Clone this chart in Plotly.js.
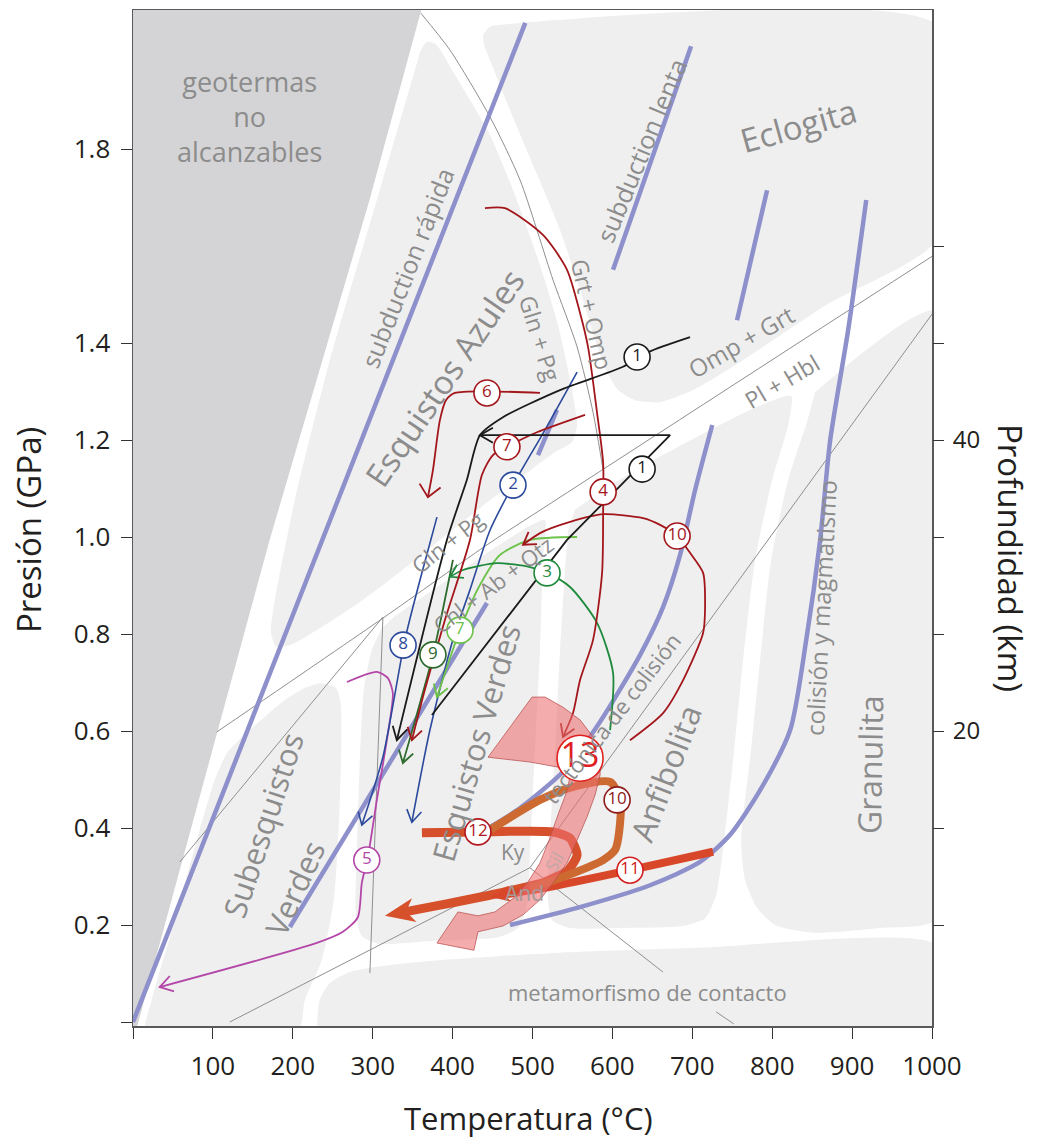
<!DOCTYPE html>
<html><head><meta charset="utf-8">
<script src="https://cdn.plot.ly/plotly-3.0.1.min.js"></script>
<style>html,body{margin:0;padding:0;background:#fff}#chart{width:1040px;height:1140px}</style>
</head><body><div id="chart"></div>
<script>
// ================= DATA (T in °C, P in GPa) =================
// Axis ticks
const xTickVals = [0,100,200,300,400,500,600,700,800,900,1000];
const xTickText = ['','100','200','300','400','500','600','700','800','900','1000'];
const yTickVals = [0,0.2,0.4,0.6,0.8,1.0,1.2,1.4,1.8];
const yTickText = ['','0.2','0.4','0.6','0.8','1.0','1.2','1.4','1.8'];
const depthTickVals = [0.2,0.4,0.6,0.8,1.0,1.2,1.4,1.6];
const depthTickText = ['','','20','','','40','',''];

// Unreachable geotherms region
const darkT = [0, 363, 296, 171, 3.4, 0];
const darkP = [2.1, 2.1, 1.695, 0.994, -0.02, -0.02];

// Metamorphic facies fields
const blueschistT = [359.1,367.8,379.1,402.9,446.8,478.1,509.4,532.0,547.0,555.8,549.5,528.2,484.4,434.3,384.2,334.1,284.0,233.9,196.3,178.8,172.5,177.5,202.5,246.4,305.2,356.6];
const blueschistP = [2.000,2.021,2.016,1.953,1.829,1.705,1.561,1.437,1.324,1.231,1.196,1.175,1.122,1.060,0.994,0.928,0.866,0.812,0.777,0.775,0.804,0.870,1.076,1.365,1.695,1.984];
const eclogiteT = [437.9,446.7,459.2,1005,1005,868.9,759.9,701.0,659.7,628.4,607.1,593.3,578.3,559.5,534.5,503.2,471.9,449.3,439.3];
const eclogiteP = [2.035,2.052,2.056,2.056,1.612,1.480,1.361,1.303,1.278,1.282,1.303,1.340,1.406,1.509,1.633,1.757,1.880,1.973,2.014];
const greenschistT = [327.8,384.1,446.8,496.9,515.7,513.1,509.4,503.1,496.9,493.1,481.8,456.8,371.6,309.0,286.4,278.9,280.2,283.9,288.9,298.9,311.5];
const greenschistP = [0.837,0.901,0.971,1.023,1.035,0.953,0.767,0.561,0.355,0.241,0.194,0.175,0.167,0.161,0.177,0.221,0.355,0.540,0.685,0.767,0.812];
const amphiboliteT = [553.2,584.6,647.2,709.8,772.4,823.7,820.0,800.0,778.7,764.9,752.4,739.9,729.9,716.1,688.6,609.6,547.0,524.5,519.4,521.9,528.2,534.5,540.7,544.5];
const amphiboliteP = [1.056,1.093,1.155,1.210,1.262,1.291,1.231,1.118,0.953,0.767,0.561,0.375,0.262,0.214,0.198,0.194,0.194,0.210,0.252,0.375,0.561,0.767,0.932,1.014];
const granuliteT = [853.8,1005,1005,935.1,851.2,803.6,781.1,766.1,761.1,773.6,786.1,798.7,820.0,842.5];
const granuliteP = [1.299,1.466,0.212,0.194,0.184,0.200,0.235,0.293,0.375,0.561,0.767,0.953,1.118,1.231];
const contactT = [229.7,233.5,246.1,271.2,308.8,371.4,521.7,709.6,1005,1005];
const contactP = [-0.02,0.045,0.080,0.103,0.115,0.126,0.142,0.153,0.159,-0.02];
const subgreenT = [233.9,253.9,260.1,258.9,251.4,236.3,215.0,206.3,15.9,23.4,52.2,83.5,102.3,118.6,146.2,190.0,215.0];
const subgreenP = [0.699,0.689,0.654,0.458,0.252,0.128,0.045,-0.02,-0.02,0.045,0.210,0.396,0.499,0.557,0.602,0.664,0.689];

// Reaction lines
const grtOmpT = [360.3,396.7,446.8,484.4,525.7,555.8,575.9,588.4];
const grtOmpP = [2.080,2.004,1.866,1.736,1.530,1.392,1.256,1.138];
const glnPgT = [104.8,313.0,446.8,534.5,1000.3];
const glnPgP = [0.598,0.833,0.988,1.082,1.579];
const line3T = [312.8,58.5];   const line3P = [0.835,0.330];
const line4T = [312.8,296.5];  const line4P = [0.835,0.101];
const kyAndT = [121.1,496.7];  const kyAndP = [0,0.318];
const kySilT = [496.7,1000.3]; const kySilP = [0.318,1.460];
const andSilT = [496.7,663.3,null,729.7,752]; const andSilP = [0.318,0.103,null,0.021,-0.004];

// Geotherms
const geoRapidT = [0,491];          const geoRapidP = [0,2.06];
const geoSlowT = [600.8,698.5];     const geoSlowP = [1.551,2.012];
const geoMidT = [756,793.6];        const geoMidP = [1.447,1.715];
const geoMagT = [917.7,895.1,872.6,860.0,842.5,822.5,784.9,747.3,709.7,647.1,559.5,471.8];
const geoMagP = [1.695,1.427,1.200,0.994,0.787,0.602,0.478,0.386,0.330,0.282,0.237,0.200];
const geoColT = [725,703.5,684.7,663.5,634.7,584.6,540.7,484.4,446.9];
const geoColP = [1.231,1.097,0.963,0.856,0.757,0.619,0.520,0.441,0.402];
const geoGsT = [196.3,443.0];       const geoGsP = [0.196,0.864];
const geoShortT = [506.9,530.7];    const geoShortP = [1.169,1.262];

// P-T paths
const path1aT = [697.2,644.7,613.3,534.4,463.0,434.2,417.9,392.9,330.2];
const path1aP = [1.412,1.381,1.351,1.303,1.247,1.210,1.118,0.994,0.581];
const path1bT = [374.1,543.2,672.2,434.2];
const path1bP = [0.633,0.994,1.210,1.210];
const path6T = [509.4,402.9,391.7,384.1,375.4,369.1];
const path6P = [1.297,1.297,1.282,1.241,1.138,1.082];
const path4T = [440.5,465.5,513.1,543.2,559.5,569.5,580.8,588.4,588.4,587.1,575.8,559.5,550.7,538.2];
const path4P = [1.678,1.678,1.623,1.551,1.462,1.392,1.256,1.153,1.049,0.926,0.788,0.705,0.637,0.588];
const path7rT = [565.8,505.6,468.0,450.5,436.7,421.7,390.4,365.3,349.0];
const path7rP = [1.252,1.216,1.186,1.169,1.128,0.994,0.829,0.685,0.581];
const path10T = [622.0,663.4,688.5,713.5,716.0,713.5,697.3,681.0,659.7,638.4,588.4,547.0,509.4,488.1];
const path10P = [0.581,0.637,0.705,0.802,0.856,0.926,0.967,1.002,1.025,1.039,1.047,1.031,1.008,0.984];
const path2T = [555.8,515.7,475.6,446.8,421.7,400.4,371.6,349.0];
const path2P = [1.340,1.221,1.107,1.014,0.891,0.788,0.602,0.412];
const path8T = [380.4,359.1,340.3,312.7,286.4];
const path8P = [1.041,0.911,0.788,0.546,0.406];
const path9T = [400.4,375.4,337.8];
const path9P = [0.953,0.757,0.534];
const path3T = [597.1,600.8,580.8,547.0,518.2,496.9,455.5,412.9,396.7];
const path3P = [0.602,0.720,0.823,0.897,0.926,0.938,0.946,0.932,0.918];
const path7gT = [555.8,496.9,459.2,434.2,409.2,380.4];
const path7gP = [1.000,0.994,0.963,0.901,0.808,0.670];
const path5T = [267.7,305.2,319.0,325.2,317.7,305.2,293.9,286.4,281.4,262.7,230.1,33.4];
const path5P = [0.701,0.722,0.709,0.678,0.581,0.458,0.340,0.287,0.216,0.186,0.163,0.072];
const path12T = [361.6,431.8,525.7,547.0,555.8,544.5,515.7,459.2,384.1,315.2];
const path12P = [0.390,0.392,0.392,0.379,0.344,0.313,0.289,0.266,0.241,0.219];
const path11T = [726.0,622.0,525.7,446.8];
const path11P = [0.351,0.313,0.280,0.258];
const path10tT = [446.8,509.4,550.7,597.1,609.6,609.6,603.4,588.4,538.2,496.9];
const path10tP = [0.396,0.458,0.485,0.495,0.458,0.410,0.355,0.334,0.299,0.276];
const path13T = [444.3,499.4,515.7,538.2,559.5,575.8,584.6,584.6,578.3,568.3,555.8,543.2,525.7,509.4,488.1,463.0,431.7,426.7,380.4,406.7,431.7,453.0,476.8,494.4,509.4,520.7,533.2,544.5,547.0,530.7,496.9,444.3];
const path13P = [0.546,0.670,0.670,0.649,0.623,0.588,0.551,0.509,0.468,0.423,0.375,0.328,0.287,0.252,0.221,0.198,0.186,0.148,0.163,0.227,0.219,0.227,0.256,0.289,0.328,0.375,0.433,0.482,0.513,0.526,0.536,0.546];

// Numbered path labels
const circT = [630.9,443.0,468.0,475.6,637.2,588.4,681.0,518.2,409.2,338.0,375.4,605.9,431.7,622.0,292.6];
const circP = [1.371,1.297,1.186,1.107,1.140,1.093,1.002,0.926,0.808,0.777,0.757,0.458,0.392,0.313,0.334];
const circLabel = ['1','6','7','2','1','4','10','3','7','8','9','10','12','11','5'];
const circColor = ['#1a1a1a','#a3161b','#a3161b','#2c4a9c','#1a1a1a','#a3161b','#a3161b','#1f8a3c','#6cc24a','#2c4a9c','#2d6a2d','#8e1a1a','#b0161b','#d42020','#b446a8'];
const bigT = [559.5]; const bigP = [0.544]; const bigLabel = ['13'];

// ================= DRAWING =================
const Y0 = -0.0082, Y1 = 2.0866;
const SX = 799 / 1000, SY = 1016 / (Y1 - Y0);
const FIELD = '#efefef', GREY_LINE = '#8f8f8f', LAV = '#8d90cb';
const traces = [];

function poly(T, P, color, spline) {
  traces.push({type:'scatter', x:T, y:P, mode:'lines', fill:'toself', fillcolor:color,
    line:{width:0, color:color, shape: spline ? 'spline' : 'linear', smoothing:0.6}, hoverinfo:'skip'});
}
function line(T, P, color, width, shape) {
  traces.push({type:'scatter', x:T, y:P, mode:'lines', line:{color:color, width:width, shape:shape||'linear', smoothing:0.7}, hoverinfo:'skip', connectgaps:false});
}
function dir(T, P) {
  const n = T.length;
  let dx = (T[n-1]-T[n-2])*SX, dy = (P[n-1]-P[n-2])*SY;
  const d = Math.hypot(dx, dy); return [dx/d, dy/d];
}
function vHead(T, P, color, width, L, deg) {
  const n = T.length, [ux, uy] = dir(T, P), a = deg*Math.PI/180;
  const xs = [], ys = [];
  [a, null, -a].forEach(ang => {
    if (ang === null) { xs.push(T[n-1]); ys.push(P[n-1]); return; }
    const bx = -ux, by = -uy, c = Math.cos(ang), s = Math.sin(ang);
    xs.push(T[n-1] + (bx*c - by*s)*L/SX); ys.push(P[n-1] + (bx*s + by*c)*L/SY);
  });
  traces.push({type:'scatter', x:xs, y:ys, mode:'lines', line:{color:color, width:width}, hoverinfo:'skip'});
}
function arrowPath(T, P, color, width, shape, L, deg) { line(T, P, color, width, shape); vHead(T, P, color, width, L, deg); }
function thickArrow(T, P, color, width, L, W) {
  const n = T.length, [ux, uy] = dir(T, P), nx = -uy, ny = ux;
  const tx = T[n-1], ty = P[n-1];
  const bx = tx - ux*L/SX, by = ty - uy*L/SY;
  const kx = tx - ux*L*0.72/SX, ky = ty - uy*L*0.72/SY;
  const lt = T.slice(0, n-1).concat([kx]), lp = P.slice(0, n-1).concat([ky]);
  traces.push({type:'scatter', x:lt, y:lp, mode:'lines', line:{color:color, width:width, shape:'spline', smoothing:0.6}, hoverinfo:'skip'});
  traces.push({type:'scatter', mode:'lines', fill:'toself', fillcolor:color, line:{width:0, color:color}, hoverinfo:'skip',
    x:[bx + nx*W/SX, tx, bx - nx*W/SX, kx, bx + nx*W/SX],
    y:[by + ny*W/SY, ty, by - ny*W/SY, ky, by + ny*W/SY]});
}

// fields
poly(blueschistT, blueschistP, FIELD, true);
poly(eclogiteT, eclogiteP, FIELD, true);
poly(greenschistT, greenschistP, FIELD, true);
poly(amphiboliteT, amphiboliteP, FIELD, true);
poly(granuliteT, granuliteP, FIELD, true);
poly(contactT, contactP, FIELD, true);
poly(subgreenT, subgreenP, FIELD, true);
poly(darkT, darkP, '#d4d4d6', false);

// reaction lines
line(grtOmpT, grtOmpP, GREY_LINE, 1, 'spline');
line(glnPgT, glnPgP, GREY_LINE, 1, 'spline');
line(line3T, line3P, GREY_LINE, 1);
line(line4T, line4P, GREY_LINE, 1);
line(kyAndT, kyAndP, GREY_LINE, 1);
line(kySilT, kySilP, GREY_LINE, 1);
line(andSilT, andSilP, GREY_LINE, 1);

// geotherms
line(geoRapidT, geoRapidP, LAV, 4.5);
line(geoSlowT, geoSlowP, LAV, 4.5);
line(geoMidT, geoMidP, LAV, 4.5);
line(geoMagT, geoMagP, LAV, 4.5, 'spline');
line(geoColT, geoColP, LAV, 4.5, 'spline');
line(geoGsT, geoGsP, LAV, 4.5);
line(geoShortT, geoShortP, LAV, 4.5);

// thin P-T paths
arrowPath(path5T, path5P, '#b446a8', 1.8, 'spline', 15, 32);
arrowPath(path8T, path8P, '#2c4a9c', 1.6, 'spline', 14, 32);
arrowPath(path2T, path2P, '#2c4a9c', 1.6, 'spline', 14, 32);
arrowPath(path9T, path9P, '#2d6a2d', 1.8, 'spline', 14, 32);
arrowPath(path7gT, path7gP, '#6cc24a', 1.8, 'spline', 14, 32);
arrowPath(path3T, path3P, '#1f8a3c', 1.8, 'spline', 14, 32);
arrowPath(path7rT, path7rP, '#a3161b', 1.8, 'spline', 14, 32);
arrowPath(path6T, path6P, '#a3161b', 1.8, 'spline', 16, 42);
arrowPath(path4T, path4P, '#a3161b', 1.8, 'spline', 14, 32);
arrowPath(path10T, path10P, '#a3161b', 1.8, 'spline', 14, 32);
arrowPath(path1aT, path1aP, '#1a1a1a', 1.8, 'spline', 15, 30);
arrowPath(path1bT, path1bP, '#1a1a1a', 1.8, 'linear', 15, 30);

// thick paths
thickArrow(path12T, path12P, '#d6502c', 9, 30, 12);
thickArrow(path11T, path11P, '#d9472b', 8, 20, 8);
line(path10tT, path10tP, '#cc6a32', 8, 'spline');
traces.push({type:'scatter', x:path13T, y:path13P, mode:'lines', fill:'toself', fillcolor:'rgba(236,112,112,0.58)',
  line:{color:'rgba(185,80,80,0.75)', width:1}, hoverinfo:'skip'});

// numbered labels
traces.push({type:'scatter', x:circT, y:circP, mode:'markers+text', text:circLabel, textposition:'middle center',
  textfont:{family:'Open Sans, sans-serif', size:17, color:circColor},
  marker:{size:26, color:'white', line:{color:circColor, width:1.6}}, hoverinfo:'skip'});
traces.push({type:'scatter', x:bigT, y:bigP, mode:'markers+text', text:bigLabel, textposition:'middle center',
  textfont:{family:'Open Sans, sans-serif', size:34, color:'#e0201f'},
  marker:{size:46, color:'white', line:{color:'#e0201f', width:1.6}}, hoverinfo:'skip'});
// dummy trace to activate the depth axis
traces.push({type:'scatter', x:[null], y:[null], yaxis:'y2', mode:'lines', hoverinfo:'skip'});

// text labels
const GREY_TXT = '#8c8c8c';
const labels = [
  ['geotermas<br>no<br>alcanzables', 146.2, 1.868, 0, 27, GREY_TXT],
  ['subduction rápida', 342.6, 1.555, -68.6, 25, GREY_TXT],
  ['Esquistos Azules', 390.5, 1.328, -55.8, 33, GREY_TXT],
  ['Gln + Pg', 509.4, 1.410, 72.8, 23, GREY_TXT],
  ['Grt + Omp', 574.5, 1.460, 76.8, 23, GREY_TXT],
  ['subduction lenta', 636.0, 1.798, -67.5, 25, GREY_TXT],
  ['Eclogita', 832.5, 1.849, -15.5, 33, GREY_TXT],
  ['Omp + Grt', 761.1, 1.404, -30, 24, GREY_TXT],
  ['Pl + Hbl', 812.5, 1.322, -30.5, 23, GREY_TXT],
  ['Gln + Pg', 392.9, 0.990, -38, 22, GREY_TXT],
  ['Chl + Ab + Qtz', 450.9, 0.903, -37, 22, GREY_TXT],
  ['Esquistos Verdes', 429.3, 0.575, -73.9, 31, GREY_TXT],
  ['Subesquistos', 162.7, 0.406, -71.8, 31, GREY_TXT],
  ['Verdes', 202.5, 0.276, -65.6, 31, GREY_TXT],
  ['tectónica de colisión', 598.6, 0.627, -52.2, 22, GREY_TXT],
  ['Anfibolita', 665.9, 0.513, -69, 32, GREY_TXT],
  ['colisión y magmatismo', 861.2, 0.854, -87, 24, GREY_TXT],
  ['Granulita', 922.5, 0.530, -89, 32, GREY_TXT],
  ['metamorfismo de contacto', 643.4, 0.062, 0, 22, GREY_TXT],
  ['Ky', 475.6, 0.351, 0, 21, GREY_TXT],
  ['And', 490.6, 0.266, 0, 21, '#a59a9a'],
  ['Sil', 527.0, 0.330, -60, 18, '#c3a7a7']
];
const annotations = labels.map(l => ({text:l[0], x:l[1], y:l[2], xref:'x', yref:'y', textangle:l[3],
  showarrow:false, xanchor:'center', yanchor:'middle', font:{family:'Open Sans, sans-serif', size:l[4], color:l[5]}}));
annotations.push({text:'Presión (GPa)', xref:'paper', yref:'paper', x:(28-133)/799, y:(1026-530)/1016, textangle:-90,
  showarrow:false, xanchor:'center', yanchor:'middle', font:{family:'Open Sans, sans-serif', size:33, color:'#231f20'}});
annotations.push({text:'Profundidad (km)', xref:'paper', yref:'paper', x:(1010-133)/799, y:(1026-558)/1016, textangle:90,
  showarrow:false, xanchor:'center', yanchor:'middle', font:{family:'Open Sans, sans-serif', size:33, color:'#231f20'}});
annotations.push({text:'Temperatura (°C)', xref:'paper', yref:'paper', x:(528-133)/799, y:(1026-1118)/1016,
  showarrow:false, xanchor:'center', yanchor:'middle', font:{family:'Open Sans, sans-serif', size:31, color:'#231f20'}});

const axisCommon = {showgrid:false, zeroline:false, ticks:'outside', ticklen:11, tickwidth:1, tickcolor:'#333',
  tickfont:{family:'Open Sans, sans-serif', size:26, color:'#231f20'}};
const layout = {
  width:1040, height:1140, margin:{l:133, r:108, t:10, b:114, pad:0},
  paper_bgcolor:'#ffffff', plot_bgcolor:'#ffffff', showlegend:false,
  font:{family:'Open Sans, sans-serif'},
  xaxis: Object.assign({}, axisCommon, {range:[0,1000], tickmode:'array', tickvals:xTickVals, ticktext:xTickText,
    showline:true, linecolor:'#58595b', linewidth:1.5, mirror:true, ticklabelstandoff:5}),
  yaxis: Object.assign({}, axisCommon, {range:[Y0,Y1], tickmode:'array', tickvals:yTickVals, ticktext:yTickText,
    showline:true, linecolor:'#58595b', linewidth:1.5, mirror:true, ticklabelstandoff:5}),
  yaxis2: Object.assign({}, axisCommon, {range:[Y0,Y1], overlaying:'y', side:'right', anchor:'x', tickmode:'array',
    tickvals:depthTickVals, ticktext:depthTickText, showline:false, ticklabelstandoff:4,
    tickfont:{family:'Open Sans, sans-serif', size:24, color:'#231f20'}}),
  annotations: annotations
};
Plotly.newPlot('chart', traces, layout, {staticPlot:true, displayModeBar:false});
</script></body></html>
